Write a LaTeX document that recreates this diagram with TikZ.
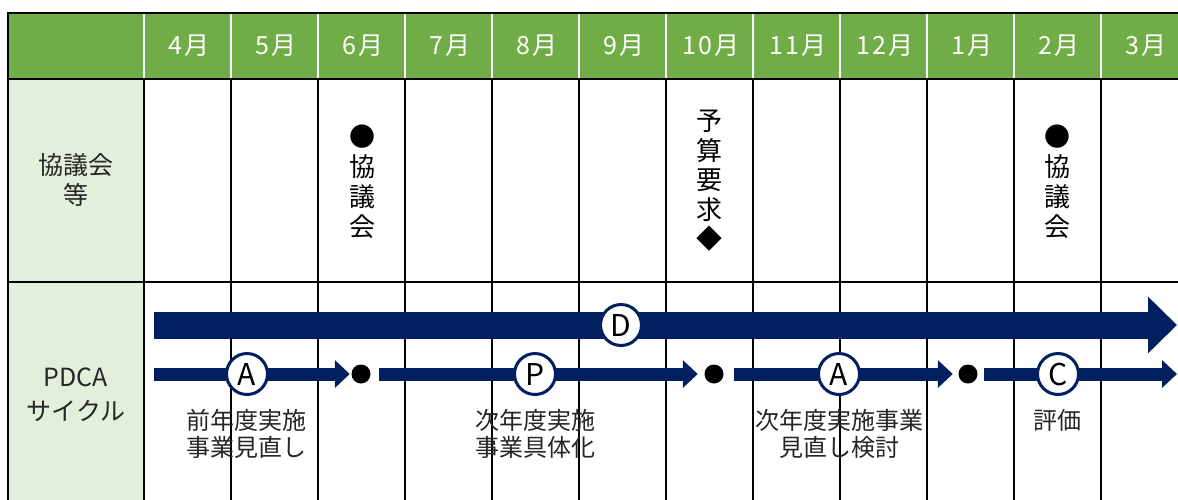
\documentclass[tikz,border=0pt]{standalone}
\usepackage{fontspec}
\setmainfont{Noto Sans CJK JP}
\usetikzlibrary{arrows.meta}
\definecolor{hdr}{HTML}{70AD47}
\definecolor{lgt}{HTML}{E2EFDA}
\definecolor{navy}{HTML}{002060}
\definecolor{txt}{HTML}{262626}
\begin{document}
\begin{tikzpicture}[x=1pt,y=-1pt,
  month/.style={text=white,font=\fontsize{25}{28}\selectfont\addfontfeature{LetterSpace=10},inner sep=0pt},
  rowlbl/.style={text=txt,align=center,inner sep=0pt},
  vtext/.style={text=black,align=center,inner sep=0pt,font=\fontsize{26}{30}\selectfont},
  pdc/.style={circle,draw=navy,line width=3pt,fill=white,minimum size=41pt,inner sep=0pt,text=black,font=\fontsize{30}{32}\selectfont},
  bigarrow/.style={navy,line width=27pt,-{Triangle[length=29pt,width=55pt]}},
  smallarrow/.style={navy,line width=13pt,-{Triangle[length=15pt,width=27pt]}},
  blackdot/.style={circle,fill=black,minimum size=19pt,inner sep=0pt},
  lbl/.style={text=txt,align=center,inner sep=0pt,font=\fontsize{24}{27}\selectfont}]
\clip (0,0) rectangle (1178,499);
\fill[white] (0,0) rectangle (1178,499);
\fill[hdr] (8,13) rectangle (1200,79);
\fill[lgt] (8,79) rectangle (144,510);
% grid
\foreach \x in {144,231,318,405,492,579,666,753,840,927,1014,1101,1188}{
  \draw[white,line width=1.5pt] (\x,14) -- (\x,78);
  \draw[black,line width=1.5pt] (\x,79) -- (\x,510);
}
\draw[black,line width=2pt] (8,13) -- (1200,13);
\draw[black,line width=1.5pt] (8,79) -- (1200,79);
\draw[black,line width=1.5pt] (8,282) -- (1200,282);
\draw[black,line width=2pt] (8,12) -- (8,510);
% months
\node[month] (m4) at (189,46) {4月};
\node[month] (m5) at (276,46) {5月};
\node[month] (m6) at (363,46) {6月};
\node[month] (m7) at (450,46) {7月};
\node[month] (m8) at (537,46) {8月};
\node[month] (m9) at (624,46) {9月};
\node[month] (m10) at (711,46) {10月};
\node[month] (m11) at (798,46) {11月};
\node[month] (m12) at (885,46) {12月};
\node[month] (m1) at (972,46) {1月};
\node[month] (m2) at (1059,46) {2月};
\node[month] (m3) at (1146,46) {3月};
% row labels
\node[rowlbl,font=\fontsize{25}{30}\selectfont] (r2) at (76,180) {協議会\\等};
\node[rowlbl,font=\fontsize{25}{34}\selectfont] (r3) at (76,395) {PDCA\\サイクル};
% vertical texts
\node[vtext] (v1) at (362,182) {●\\協\\議\\会};
\node[vtext,font=\fontsize{26}{29.5}\selectfont] (v2) at (709,181) {予\\算\\要\\求\\◆};
\node[vtext] (v3) at (1057,182) {●\\協\\議\\会};
% D arrow
\coordinate (ds) at (154,325);
\coordinate (de) at (1177,325);
\draw[bigarrow] (ds) -- (de);
% dots
\node[blackdot] (d1) at (361,374) {};
\node[blackdot] (d2) at (714,374) {};
\node[blackdot] (d3) at (968,374) {};
\coordinate (s1) at (154,374);
\coordinate (e4) at (1177,374);
\draw[smallarrow] (s1) -- ([xshift=-1.5pt]d1.west);
\draw[smallarrow] ([xshift=8.5pt]d1.east) -- ([xshift=-6.5pt]d2.west);
\draw[smallarrow] ([xshift=10.5pt]d2.east) -- ([xshift=-5.5pt]d3.west);
\draw[smallarrow] ([xshift=6.5pt]d3.east) -- (e4);
% circles
\node[pdc] (cD) at (621,325) {D};
\node[pdc] (cA1) at (247,374) {A};
\node[pdc] (cP) at (535,374) {P};
\node[pdc] (cA2) at (839,374) {A};
\node[pdc] (cC) at (1058,374) {C};
% labels
\node[lbl] (l1) at (246,433.5) {前年度実施\\事業見直し};
\node[lbl] (l2) at (535,433.5) {次年度実施\\事業具体化};
\node[lbl] (l3) at (839,433.5) {次年度実施事業\\見直し検討};
\node[lbl] (l4) at (1057,420) {評価};
\end{tikzpicture}
\end{document}
